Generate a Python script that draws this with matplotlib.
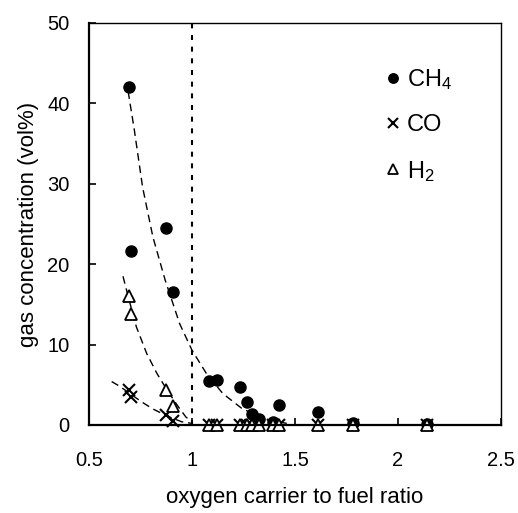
import numpy as np
import matplotlib
matplotlib.use('Agg')
import matplotlib.pyplot as plt

plt.rcParams['font.family'] = 'Liberation Sans'
plt.rcParams['mathtext.fontset'] = 'custom'
plt.rcParams['mathtext.rm'] = 'Liberation Sans'
plt.rcParams['mathtext.default'] = 'regular'

# measured points
ratio = [0.696, 0.704, 0.874, 0.906, 1.083, 1.12, 1.233, 1.268, 1.29, 1.327, 1.393, 1.42, 1.61, 1.78, 2.14]
ch4 = [42.1, 21.6, 24.5, 16.5, 5.5, 5.6, 4.7, 2.8, 1.4, 0.8, 0.4, 2.5, 1.6, 0.2, 0.1]
co = [4.4, 3.5, 1.3, 0.5, 0, 0, 0, 0, 0, 0, 0, 0, 0, 0, 0]
h2 = [16.1, 13.8, 4.3, 2.4, 0, 0, 0, 0, 0, 0, 0, 0, 0, 0, 0]

# dashed trend lines
ch4_fit_x = [0.69, 0.72, 0.76, 0.81, 0.87, 0.94, 1.0, 1.07, 1.15, 1.24, 1.32, 1.40, 1.46]
ch4_fit_y = [41.5, 36.7, 29.6, 23.4, 18.0, 12.6, 9.3, 6.4, 3.9, 2.1, 1.1, 0.5, 0.2]
h2_fit_x = [0.665, 0.69, 0.73, 0.78, 0.83, 0.88, 0.93, 0.97, 1.0]
h2_fit_y = [18.5, 16.0, 12.2, 8.9, 6.4, 4.3, 2.4, 1.0, 0.4]
co_fit_x = [0.61, 0.65, 0.71, 0.76, 0.81, 0.88, 0.95, 1.0]
co_fit_y = [5.4, 4.8, 3.7, 2.8, 2.0, 1.1, 0.4, 0.2]

fig = plt.figure(figsize=(5.18, 5.13), dpi=100)
ax = fig.add_axes([89/518, 88/513, 412/518, 402/513])

ax.plot(ch4_fit_x, ch4_fit_y, color='black', lw=1.0, ls=(0, (5.5, 3.5)))
ax.plot(h2_fit_x, h2_fit_y, color='black', lw=1.0, ls=(0, (5.5, 3.5)))
ax.plot(co_fit_x, co_fit_y, color='black', lw=1.0, ls=(0, (5.5, 3.5)))

ax.axvline(1, color='black', lw=1.5, ls=(0, (2.4, 3.2)))

ax.plot(ratio, ch4, 'o', color='black', ms=8, label='CH$_4$', clip_on=False)
ax.plot(ratio, co, 'x', color='black', ms=9, mew=1.5, label='CO', clip_on=False)
ax.plot(ratio, h2, '^', mfc='white', mec='black', ms=8.5, mew=1.3, label='H$_2$', clip_on=False)

ax.set_xlim(0.5, 2.5)
ax.set_ylim(0, 50)
ax.set_xticks([0.5, 1, 1.5, 2, 2.5])
ax.set_xticklabels(['0.5', '1', '1.5', '2', '2.5'])
ax.set_yticks([0, 10, 20, 30, 40, 50])
ax.tick_params(direction='in', length=5, width=1.2, labelsize=14.5)
ax.tick_params(axis='x', pad=19)
ax.tick_params(axis='y', pad=14)

for side in ['left', 'bottom']:
    ax.spines[side].set_linewidth(1.6)
for side in ['top', 'right']:
    ax.spines[side].set_linewidth(1.0)

ax.set_xlabel('oxygen carrier to fuel ratio', fontsize=16, labelpad=12)
ax.set_ylabel('gas concentration (vol%)', fontsize=16, labelpad=6)

leg = ax.legend(loc='upper left', bbox_to_anchor=(0.694, 0.92), frameon=False, fontsize=17,
                handlelength=0.5, handletextpad=0.35, labelspacing=0.95, borderpad=0,
                markerscale=0.85)

fig.savefig('out.png', dpi=100)
